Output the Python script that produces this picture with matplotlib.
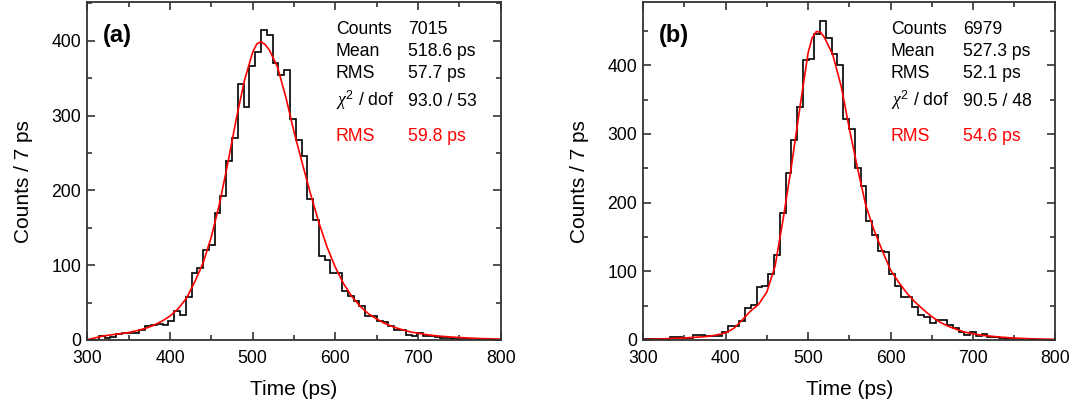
import numpy as np
import matplotlib

matplotlib.use("Agg")
import matplotlib.pyplot as plt  # noqa: E402
from matplotlib.ticker import MultipleLocator  # noqa: E402

# histogram data (7 ps bins)
BIN_WIDTH = 7.0
A_BIN_START = 300.0
A_COUNTS = [
    0, 0, 6, 3, 4, 8, 9, 10, 9, 13,
    19, 20, 22, 20, 25, 39, 34, 58, 90, 96,
    120, 127, 170, 193, 240, 270, 342, 312, 366, 385,
    415, 408, 371, 354, 361, 296, 267, 246, 188, 161,
    112, 107, 90, 89, 65, 59, 52, 46, 32, 32,
    26, 24, 19, 13, 13, 7, 5, 10, 6, 5,
    4, 3, 3, 2, 1, 1, 1, 0, 1, 0,
    0, 0,
]
B_BIN_START = 297.6
B_COUNTS = [
    1, 1, 1, 2, 2, 5, 5, 3, 3, 7,
    7, 6, 6, 6, 11, 20, 20, 27, 46, 51,
    77, 78, 96, 124, 185, 243, 291, 339, 407, 409,
    445, 464, 440, 416, 401, 321, 307, 251, 224, 173,
    153, 129, 128, 96, 79, 63, 63, 48, 36, 33,
    25, 29, 29, 22, 17, 12, 7, 12, 6, 9,
    4, 4, 3, 2, 2, 1, 1, 1, 0, 0,
    0, 0,
]

# fitted curves
FIT_T = [300, 310, 320, 330, 340, 350, 360, 370, 380, 390, 400, 410, 420, 430,
         440, 450, 460, 470, 480, 490, 500, 505, 510, 515, 520, 530, 540, 550,
         560, 570, 580, 590, 600, 610, 620, 630, 640, 650, 660, 670, 680, 690,
         700, 710, 720, 730, 740, 750, 760, 770, 780, 790, 800]
A_FIT = [0.5, 3, 5.5, 7, 8.5, 10, 12.5, 15.5, 19.5, 25, 32, 42, 56, 78,
         103, 138, 183, 237, 295, 347, 385, 396, 399, 395, 388, 365, 325, 278,
         236, 195, 157, 124, 97, 75, 58, 45, 35, 28, 22, 17.5, 14, 11,
         9, 7.2, 5.8, 4.8, 4, 3.3, 2.7, 2.2, 1.8, 1.5, 1.2]
B_FIT = [0.5, 1, 1.5, 2, 2.5, 3, 3.7, 4.5, 5.5, 7.5, 10.5, 17, 29, 42,
         52, 70, 108, 178, 255, 338, 418, 440, 449, 448, 440, 415, 370, 308,
         250, 196, 160, 130, 102, 84, 68, 55, 44, 34, 26, 20, 15.5, 11.5,
         9, 7, 5.8, 4.6, 3.6, 2.9, 2.3, 1.8, 1.5, 1.2, 1.0]

STAT_NAMES = ["Counts", "Mean", "RMS", r"$\chi^{2}$ / dof"]
A_STATS = ["7015", "518.6 ps", "57.7 ps", "93.0 / 53"]
B_STATS = ["6979", "527.3 ps", "52.1 ps", "90.5 / 48"]
A_FIT_RMS = "59.8 ps"
B_FIT_RMS = "54.6 ps"

plt.rcParams.update(
    {
        "font.family": "Liberation Sans",
        "mathtext.fontset": "custom",
        "mathtext.rm": "Liberation Sans",
        "mathtext.it": "Liberation Serif:italic",
        "mathtext.bf": "Liberation Sans:bold",
        "axes.edgecolor": "#333333",
        "axes.linewidth": 1.3,
        "xtick.color": "#333333",
        "ytick.color": "#333333",
        "xtick.labelcolor": "black",
        "ytick.labelcolor": "black",
    }
)


def draw_panel(ax, start, counts, fit, stats, fit_rms, tag, ymax):
    edges = start + BIN_WIDTH * np.arange(len(counts) + 1)
    ax.stairs(counts, edges, color="black", linewidth=1.2)
    ax.plot(FIT_T, fit, color="#ff0000", linewidth=1.2)
    ax.set_xlim(300, 800)
    ax.set_ylim(0, ymax)
    ax.xaxis.set_major_locator(MultipleLocator(100))
    ax.xaxis.set_minor_locator(MultipleLocator(50))
    ax.yaxis.set_major_locator(MultipleLocator(100))
    ax.yaxis.set_minor_locator(MultipleLocator(50))
    ax.tick_params(which="both", direction="in", top=True, right=True,
                   labelsize=12.7, width=1.2)
    ax.tick_params(which="major", length=6)
    ax.tick_params(which="minor", length=3.5)
    ax.tick_params(axis="x", which="major", pad=7)
    ax.tick_params(axis="y", which="major", pad=4.5)
    ax.set_xlabel("Time (ps)", fontsize=15)
    ax.set_ylabel("Counts / 7 ps", fontsize=15)
    ax.xaxis.set_label_coords(0.5, -0.118)
    ax.yaxis.set_label_coords(-0.132, 0.47)

    rows_y = [0.905, 0.841, 0.774, 0.692]
    for name, value, y in zip(STAT_NAMES, stats, rows_y):
        ax.text(0.601, y, name, transform=ax.transAxes, fontsize=12.7,
                va="baseline")
        ax.text(0.776, y, value, transform=ax.transAxes, fontsize=12.7,
                va="baseline")
    ax.text(0.601, 0.590, "RMS", transform=ax.transAxes, fontsize=12.7,
            va="baseline", color="#ff0000")
    ax.text(0.776, 0.590, fit_rms, transform=ax.transAxes, fontsize=12.7,
            va="baseline", color="#ff0000")
    ax.text(0.038, 0.882, tag, transform=ax.transAxes, fontsize=17,
            fontweight="bold", va="baseline")


fig = plt.figure(figsize=(10.75, 4.05), dpi=100)
ax_a = fig.add_axes([0.0812, 0.1605, 0.3847, 0.8346])
ax_b = fig.add_axes([0.5984, 0.1605, 0.3833, 0.8346])

draw_panel(ax_a, A_BIN_START, A_COUNTS, A_FIT, A_STATS, A_FIT_RMS, "(a)", 452)
draw_panel(ax_b, B_BIN_START, B_COUNTS, B_FIT, B_STATS, B_FIT_RMS, "(b)", 492)

fig.savefig("out.png", dpi=100)
plt.close(fig)
